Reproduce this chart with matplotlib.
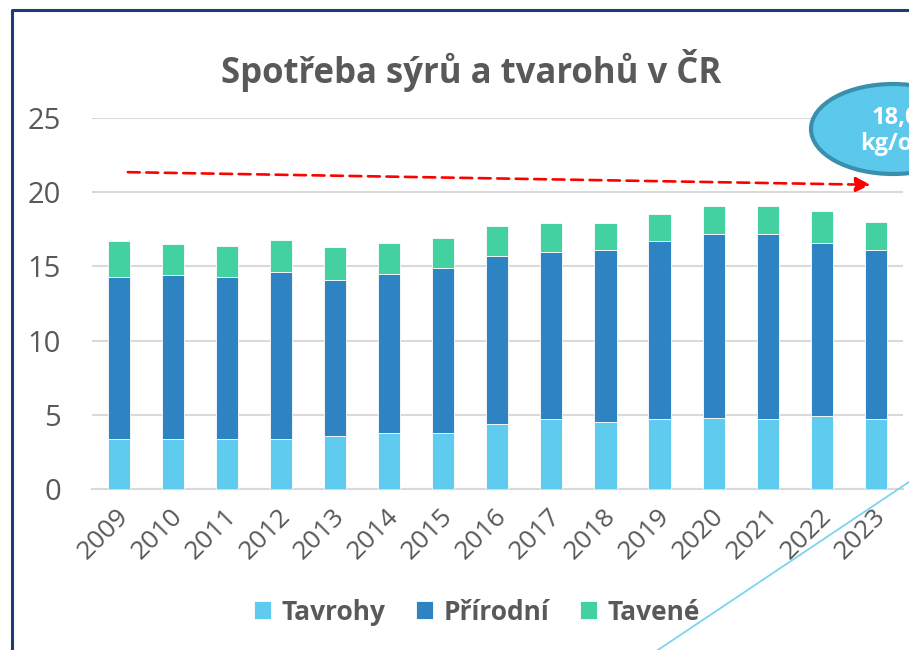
import matplotlib
matplotlib.use("Agg")
import matplotlib.pyplot as plt
from matplotlib.patches import Ellipse
from matplotlib.lines import Line2D
from matplotlib.transforms import ScaledTranslation
import numpy as np

plt.rcParams["font.family"] = ["Open Sans", "DejaVu Sans"]

# spotřeba sýrů a tvarohů (kg/os./rok)
years = ["2009", "2010", "2011", "2012", "2013", "2014", "2015", "2016",
         "2017", "2018", "2019", "2020", "2021", "2022", "2023"]
tavrohy = [3.4, 3.4, 3.4, 3.4, 3.6, 3.8, 3.8, 4.4, 4.7, 4.5, 4.7, 4.8, 4.7, 4.9, 4.7]
prirodni = [10.9, 11.0, 10.9, 11.2, 10.5, 10.7, 11.1, 11.3, 11.3, 11.6, 12.0, 12.4, 12.5, 11.7, 11.4]
tavene = [2.4, 2.1, 2.1, 2.2, 2.2, 2.1, 2.0, 2.0, 1.9, 1.8, 1.8, 1.9, 1.9, 2.1, 1.9]
series_names = ["Tavrohy", "Přírodní", "Tavené"]
callout_text = "18,0\nkg/os."

colors = ["#5ECBEF", "#2E83C3", "#43D1A1"]
grey_text = "#595959"
grid_col = "#D9D9D9"

fig = plt.figure(figsize=(9.09, 6.5), dpi=100)
ax = fig.add_axes([91.6 / 909, 1 - 489 / 650, (903 - 91.6) / 909, (489 - 118) / 650])

x = np.arange(len(years))
bottom = np.zeros(len(years))
for vals, col, name in zip([tavrohy, prirodni, tavene], colors, series_names):
    ax.bar(x, vals, bottom=bottom, width=0.41, color=col, edgecolor="white",
           linewidth=0.6, label=name, zorder=3)
    bottom += np.array(vals)

ax.set_xlim(-0.5, len(years) - 0.5)
ax.set_ylim(0, 25)
ax.set_yticks([0, 5, 10, 15, 20, 25])
ax.yaxis.grid(True, color=grid_col, linewidth=1.5, zorder=0)
for s in ["top", "right", "left"]:
    ax.spines[s].set_visible(False)
ax.spines["bottom"].set_color(grid_col)
ax.spines["bottom"].set_linewidth(1.5)
ax.tick_params(axis="both", length=0, colors=grey_text)
ax.tick_params(axis="y", labelsize=21, pad=22)
ax.set_xticks(x)
ax.set_xticklabels(years, rotation=45, ha="right", va="center",
                   rotation_mode="anchor", fontsize=19)
ax.tick_params(axis="x", pad=17)
for lbl in ax.get_xticklabels():
    lbl.set_transform(lbl.get_transform() + ScaledTranslation(0.06, 0, fig.dpi_scale_trans))

fig.text(471 / 909, 1 - 70 / 650, "Spotřeba sýrů a tvarohů v ČR", ha="center", va="center",
         fontsize=25, fontweight="bold", color=grey_text)

# červená přerušovaná šipka (trend)
ax.annotate("", xy=(13.9, 20.5), xytext=(0.17, 21.35),
            arrowprops=dict(arrowstyle="-|>,head_length=0.9,head_width=0.45",
                            color="#FF0000", lw=1.9, linestyle=(0, (4.5, 2.5)),
                            shrinkA=0, shrinkB=0),
            annotation_clip=False, zorder=5)

# bublina s hodnotou
ell = Ellipse((893 / 909, 1 - 129 / 650), 164 / 909, 90 / 650, transform=fig.transFigure,
              facecolor="#5CC8EC", edgecolor="#3A90AC", linewidth=3, zorder=6)
fig.patches.append(ell)
fig.text(895 / 909, 1 - 131 / 650, callout_text, ha="center", va="center", fontsize=17,
         fontweight="bold", color="white", linespacing=1.15, zorder=7)

# dekorativní čára a rámeček
fig.add_artist(Line2D([640 / 909, 1.0], [1 - 662 / 650, 1 - 482 / 650], transform=fig.transFigure,
                      color="#7FD3F0", linewidth=1.3))
fig.add_artist(Line2D([12 / 909, 12 / 909, 1.0], [0.0, 1 - 10 / 650, 1 - 10 / 650],
                      transform=fig.transFigure, color="#1F3A7A", linewidth=2.2))

handles, labels = ax.get_legend_handles_labels()
leg = fig.legend(handles, labels, loc="center", bbox_to_anchor=(477 / 909, 1 - 612 / 650),
                 ncol=3, frameon=False, handlelength=0.65, handleheight=0.65,
                 handletextpad=0.4, columnspacing=1.15,
                 prop=dict(size=19, weight="bold"))
for t in leg.get_texts():
    t.set_color(grey_text)

fig.savefig("out.png", dpi=100)
